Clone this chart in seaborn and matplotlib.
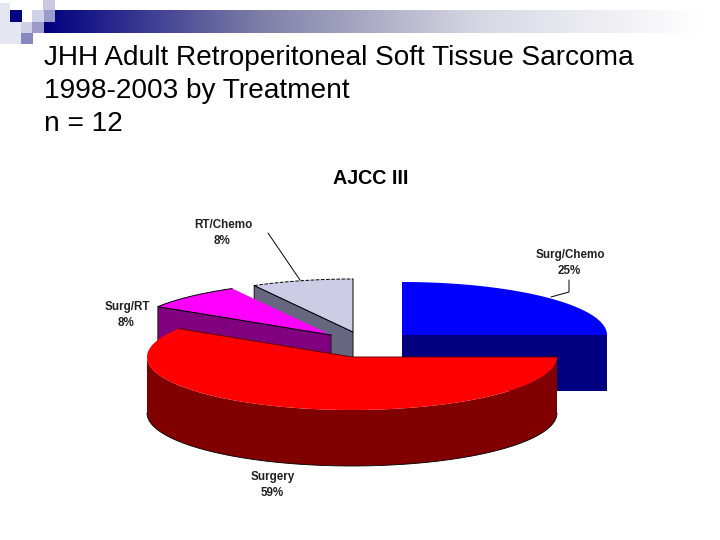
# Exploded 3D pie on a slide, drawn as polygons in pixel coordinates
import numpy as np
import matplotlib
matplotlib.use('Agg')
import matplotlib.pyplot as plt
import seaborn as sns

# Data
labels = ['Surg/Chemo', 'Surgery', 'Surg/RT', 'RT/Chemo']
shares = [25, 59, 8, 8]
top_colors = ['#0000FF', '#FF0000', '#FF00FF', '#CCCCE6']
side_colors = ['#000080', '#800000', '#800080', '#666680']
title_lines = ['JHH Adult Retroperitoneal Soft Tissue Sarcoma', '1998-2003 by Treatment', 'n = 12']
chart_title = 'AJCC III'

# Pie shape
rx, ry, depth = 205, 53, 56
centers = [(402, 335), (352, 357), (331, 335), (353, 332)]

sns.set_theme(style='white')
plt.rcParams['font.family'] = ['Liberation Sans', 'DejaVu Sans']

fig = plt.figure(figsize=(7.2, 5.4), dpi=100)
ax = fig.add_axes([0, 0, 1, 1])
ax.axis('off')


def rim(center, start, end):
    # angles run clockwise from 12 o'clock
    a = np.radians(np.linspace(start, end, 80))
    return center[0] + rx * np.sin(a), center[1] - ry * np.cos(a)


# Slide header: gradient bar and squares
grad = np.linspace(0, 1, 256).reshape(1, -1)
cmap = sns.blend_palette(['#000080', '#8080A8', '#D8D8E4', '#FFFFFF'], as_cmap=True)
ax.imshow(grad, extent=[44, 700, 33, 10], cmap=cmap, aspect='auto', zorder=1)
ax.set_xlim(0, 720)
ax.set_ylim(540, 0)
squares = [(0, 3, 10, 41, '#E6E6F2'), (10, 22, 11, 22, '#E6E6F2'), (32, 10, 12, 12, '#D0D0E8'),
           (43, 0, 12, 10, '#C8C8E0'), (44, 10, 11, 12, '#9C9CCC'), (10, 10, 12, 12, '#000080'),
           (21, 22, 11, 11, '#D0D0E8'), (32, 22, 12, 11, '#9C9CCC'), (21, 33, 12, 11, '#8888BC')]
for x, y, w, h, c in squares:
    ax.add_patch(plt.Rectangle((x, y), w, h, color=c, lw=0, zorder=2))

cum = np.cumsum([0] + shares)
angles = cum / cum[-1] * 360

# back slices first, the big red one last
for z, i in enumerate([3, 2, 0, 1]):
    zo = 3 + z
    cx, cy = centers[i]
    start, end = angles[i], angles[i + 1]
    xr, yr = rim(centers[i], start, end)
    # side walls
    if i == 0:
        ax.fill([cx, xr[-1], xr[-1], cx], [cy, cy, cy + depth, cy + depth], color=side_colors[i], lw=0, zorder=zo)
    elif i == 1:
        # only the front half of the rim has a visible wall
        xf, yf = rim(centers[i], start, 270)
        ax.fill(np.r_[xf, xf[::-1]], np.r_[yf, yf[::-1] + depth], color=side_colors[i], lw=0, zorder=zo)
        ax.plot(xf, yf + depth, color='black', lw=0.6, zorder=zo)
    else:
        ax.fill([xr[0], cx, cx, xr[0]], [yr[0], cy, cy + depth, yr[0] + depth], color=side_colors[i],
                ec='#202020', lw=0.8, zorder=zo)
    # top face
    ax.fill(np.r_[cx, xr], np.r_[cy, yr], color=top_colors[i], lw=0, zorder=zo)
    if i == 2:
        ax.plot(np.r_[cx, xr], np.r_[cy, yr], color='black', lw=0.7, zorder=zo)
    elif i == 3:
        ax.plot(xr, yr, color='black', lw=0.7, ls='--', zorder=zo)
        ax.plot([xr[0], cx, cx], [yr[0], cy, yr[-1]], color='black', lw=0.7, zorder=zo)
    elif i == 1:
        ax.plot([xr[-1], cx, xr[0]], [yr[-1], cy, yr[0]], color='#600000', lw=0.7, zorder=zo)

# Slide title
for n, line in enumerate(title_lines):
    ax.text(44, 58 + n * 33, line, fontsize=20.2, color='black', ha='left', va='center', zorder=8)
ax.text(371, 179, chart_title, fontsize=14.2, fontweight='bold', color='black', ha='center', va='center')

# Slice labels
label_pos = [(570, 255), (273, 477), (127, 307), (223, 225)]
for name, share, (x, y) in zip(labels, shares, label_pos):
    ax.text(x, y, name, fontsize=8.4, fontweight='bold', color='#202020', ha='center', va='center', zorder=8)
    ax.text(x - 1, y + 15.5, f'{share}%', fontsize=8.4, fontweight='bold', color='#202020', ha='center', va='center', zorder=8)

# Leader lines
ax.plot([268, 300], [233, 280], color='black', lw=0.7, zorder=8)
ax.plot([569, 569, 551], [280, 292, 297], color='black', lw=0.7, zorder=8)

fig.savefig('out.png', dpi=100)
